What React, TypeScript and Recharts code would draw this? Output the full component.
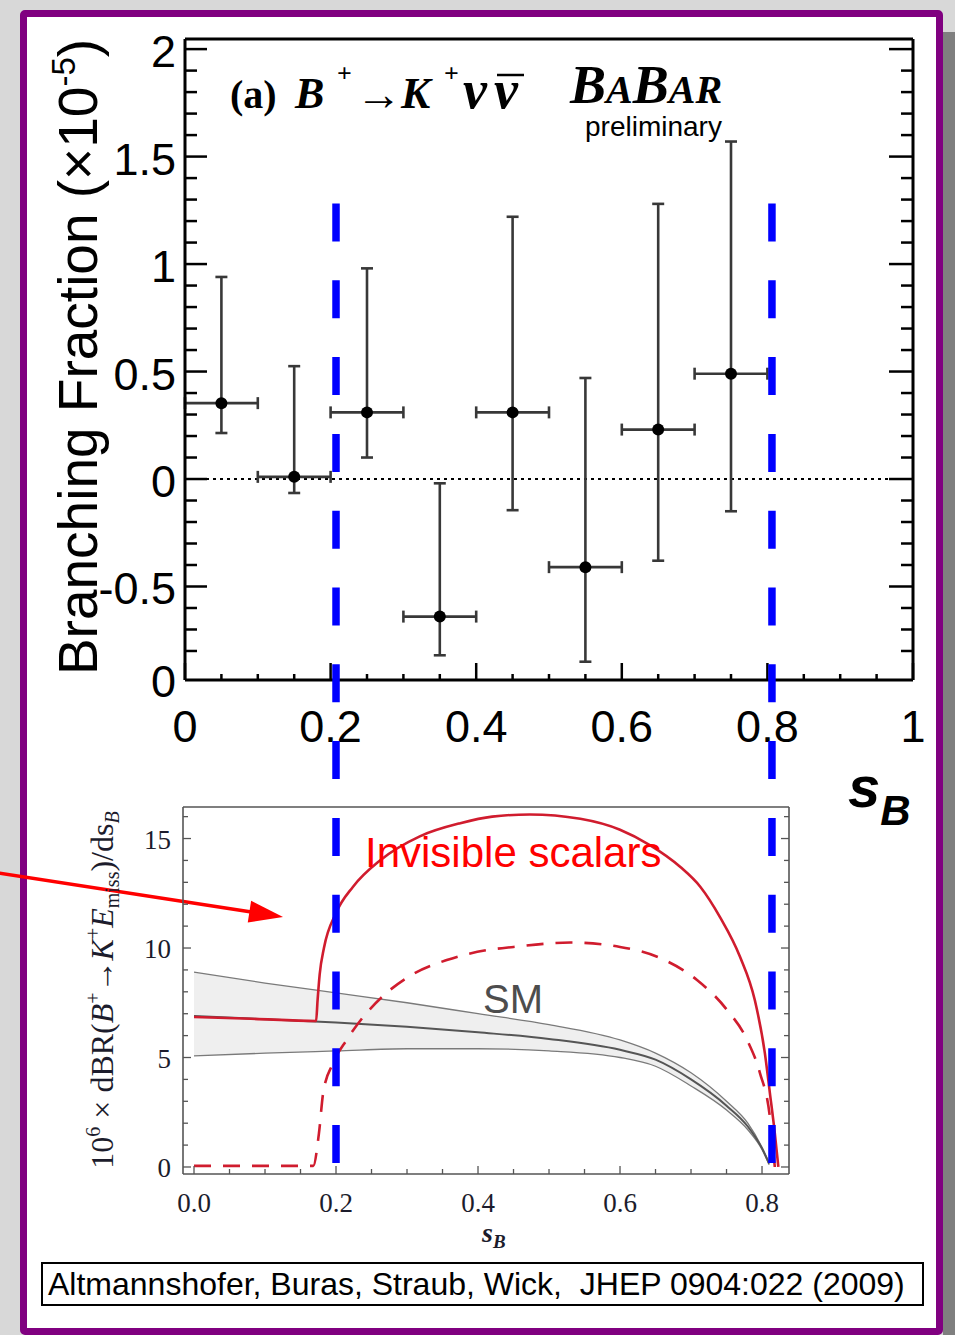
import React from 'react';
import { ComposedChart, Scatter, ErrorBar, Line, Area, XAxis, YAxis, ReferenceLine } from 'recharts';

const SANS = '"Liberation Sans", Arial, Helvetica, sans-serif';
const SERIF = '"Liberation Serif", "Times New Roman", Times, serif';

// ---- upper panel: BaBar B+ -> K+ nu nubar, branching fraction per s_B bin (x 1e-5)
const binCenters = [0.05, 0.15, 0.25, 0.35, 0.45, 0.55, 0.65, 0.75];
const bfValues = [0.353, 0.01, 0.31, -0.64, 0.31, -0.41, 0.23, 0.49];
const bfErrUp = [0.587, 0.515, 0.67, 0.62, 0.91, 0.88, 1.05, 1.08];
const bfErrDown = [0.139, 0.075, 0.21, 0.18, 0.455, 0.44, 0.61, 0.64];
const binHalfWidth = 0.05;

const topXTicks = [0, 0.05, 0.1, 0.15, 0.2, 0.25, 0.3, 0.35, 0.4, 0.45, 0.5, 0.55, 0.6, 0.65, 0.7, 0.75, 0.8, 0.85, 0.9, 0.95, 1];
const topXMajor = [0, 0.2, 0.4, 0.6, 0.8, 1];
const topYTicks = [-0.8, -0.7, -0.6, -0.5, -0.4, -0.3, -0.2, -0.1, 0, 0.1, 0.2, 0.3, 0.4, 0.5, 0.6, 0.7, 0.8, 0.9, 1, 1.1, 1.2, 1.3, 1.4, 1.5, 1.6, 1.7, 1.8, 1.9, 2];
const topYMajor = [-0.5, 0, 0.5, 1, 1.5, 2];

// ---- lower panel: dBR/ds_B, SM band and invisible-scalar curves
const smS = [0, 0.1, 0.2, 0.3, 0.4, 0.5, 0.6, 0.65, 0.7, 0.75, 0.78, 0.8, 0.81];
const smUpper = [8.9, 8.4, 7.95, 7.5, 7.0, 6.5, 5.8, 5.2, 4.3, 3.0, 2.0, 0.9, 0.2];
const smCentral = [6.9, 6.75, 6.6, 6.4, 6.15, 5.85, 5.35, 4.9, 4.0, 2.8, 1.85, 0.85, 0.15];
const smLower = [5.07, 5.2, 5.3, 5.4, 5.4, 5.3, 5.0, 4.6, 3.7, 2.6, 1.7, 0.8, 0.1];

const scalarSolidS = [0, 0.08, 0.172, 0.174, 0.177, 0.183, 0.2, 0.224, 0.262, 0.318, 0.375, 0.42, 0.473, 0.544, 0.6, 0.642, 0.685, 0.713, 0.741, 0.769, 0.79, 0.804, 0.811, 0.818, 0.823];
const scalarSolid = [6.85, 6.77, 6.67, 7.6, 8.8, 10.0, 11.6, 12.8, 14.0, 15.1, 15.7, 16.0, 16.1, 15.9, 15.4, 14.7, 13.7, 12.8, 11.4, 9.6, 7.6, 5.2, 3.4, 1.55, 0];
const scalarDashS = [0, 0.168, 0.176, 0.182, 0.196, 0.215, 0.237, 0.266, 0.308, 0.356, 0.412, 0.45, 0.53, 0.6, 0.656, 0.708, 0.75, 0.779, 0.797, 0.811, 0.818];
const scalarDash = [0.05, 0.05, 1.55, 3.4, 4.75, 5.8, 6.8, 7.8, 8.8, 9.45, 9.9, 10.05, 10.25, 10.05, 9.55, 8.55, 7.2, 5.8, 4.3, 2.3, 0];

const botXTicks = [0, 0.05, 0.1, 0.15, 0.2, 0.25, 0.3, 0.35, 0.4, 0.45, 0.5, 0.55, 0.6, 0.65, 0.7, 0.75, 0.8];
const botXMajor = [0, 0.2, 0.4, 0.6, 0.8];
const botYTicks = [0, 1, 2, 3, 4, 5, 6, 7, 8, 9, 10, 11, 12, 13, 14, 15, 16];
const botYMajor = [0, 5, 10, 15];

// s_B cuts drawn across both panels, and the pointer arrow (lower-panel units)
const cutLines = [0.2, 0.814];
const cutSpan = [0.1, 44];
const arrowFrom = { s: -0.28, y: 13.45 };
const arrowTo = { s: 0.1254, y: 11.42 };

const bfPoints = binCenters.map((x, i) => ({ x, y: bfValues[i], ey: [bfErrDown[i], bfErrUp[i]], ex: binHalfWidth }));
const smData = smS.map((s, i) => ({ s, upper: smUpper[i], central: smCentral[i], lower: smLower[i], range: [smLower[i], smUpper[i]] }));
const solidData = scalarSolidS.map((s, i) => ({ s, y: scalarSolid[i] }));
const dashData = scalarDashS.map((s, i) => ({ s, y: scalarDash[i] }));

type TickCfg = {
  side: 'bottom' | 'top' | 'left' | 'right';
  majors: number[];
  majorLen: number;
  minorLen: number;
  stroke: string;
  width: number;
  label?: (v: number) => string;
  font?: { family: string; size: number; fill: string; gap: number; dy: number };
};

const isIn = (v: number, list: number[]) => list.some((m) => Math.abs(m - v) < 1e-6);

// axes are 1px wide/tall with no tick offset, so (x, y) is the frame edge; ticks point inward
const makeTick = (cfg: TickCfg) => (props: any) => {
  const { x, y, payload } = props;
  const v = payload.value;
  const major = isIn(v, cfg.majors);
  const len = major ? cfg.majorLen : cfg.minorLen;
  const dx = cfg.side === 'left' ? len : cfg.side === 'right' ? -len : 0;
  const dy = cfg.side === 'bottom' ? -len : cfg.side === 'top' ? len : 0;
  let label = null;
  if (major && cfg.label && cfg.font) {
    const f = cfg.font;
    label =
      cfg.side === 'bottom' ? (
        <text x={x} y={y + f.gap} textAnchor="middle" fontFamily={f.family} fontSize={f.size} fill={f.fill}>
          {cfg.label(v)}
        </text>
      ) : (
        <text x={x - f.gap} y={y + f.dy} textAnchor="end" fontFamily={f.family} fontSize={f.size} fill={f.fill}>
          {cfg.label(v)}
        </text>
      );
  }
  return (
    <g>
      <line x1={x} y1={y} x2={x + dx} y2={y + dy} stroke={cfg.stroke} strokeWidth={cfg.width} />
      {label}
    </g>
  );
};

const topFont = { family: SANS, size: 45, fill: '#000' };
const botFont = { family: SERIF, size: 27, fill: '#1c1c2c' };

const arrowShape = (p: any) => {
  const { x1, y1, x2, y2 } = p;
  const ang = Math.atan2(y2 - y1, x2 - x1);
  const L = 34;
  const W = 11;
  const bx = x2 - L * Math.cos(ang);
  const by = y2 - L * Math.sin(ang);
  const nx = -Math.sin(ang) * W;
  const ny = Math.cos(ang) * W;
  return (
    <g>
      <line x1={x1} y1={y1} x2={bx + 2 * Math.cos(ang)} y2={by + 2 * Math.sin(ang)} stroke="#ff0000" strokeWidth={3.5} />
      <polygon points={`${x2},${y2} ${bx + nx},${by + ny} ${bx - nx},${by - ny}`} fill="#ff0000" />
    </g>
  );
};

const axisCommon = { allowDataOverflow: true, interval: 0 as const, tickSize: 0, tickMargin: 0, tickLine: false };

const TopPanel = () => (
  <ComposedChart width={955} height={800} margin={{ top: 38, right: 41, bottom: 119, left: 184 }}>
    <XAxis
      {...axisCommon} type="number" dataKey="x" domain={[0, 1]} ticks={topXTicks} height={1}
      axisLine={{ stroke: '#000', strokeWidth: 3 }}
      tick={makeTick({ side: 'bottom', majors: topXMajor, majorLen: 17, minorLen: 6, stroke: '#000', width: 2.5,
        label: (v) => String(v), font: { ...topFont, gap: 62, dy: 0 } })}
    />
    <XAxis
      {...axisCommon} xAxisId="t" orientation="top" type="number" domain={[0, 1]} ticks={topXTicks} height={1}
      axisLine={{ stroke: '#000', strokeWidth: 3 }}
      tick={makeTick({ side: 'top', majors: topXMajor, majorLen: 17, minorLen: 6, stroke: '#000', width: 2.5 })}
    />
    <YAxis
      {...axisCommon} type="number" dataKey="y" domain={[-0.935, 2.047]} ticks={topYTicks} width={1}
      axisLine={{ stroke: '#000', strokeWidth: 3 }}
      tick={makeTick({ side: 'left', majors: topYMajor, majorLen: 22, minorLen: 12, stroke: '#000', width: 2.5,
        label: (v) => String(v), font: { ...topFont, gap: 9, dy: 18 } })}
    />
    <YAxis
      {...axisCommon} yAxisId="r" orientation="right" type="number" domain={[-0.935, 2.047]} ticks={topYTicks} width={1}
      axisLine={{ stroke: '#000', strokeWidth: 3 }}
      tick={makeTick({ side: 'right', majors: topYMajor, majorLen: 24, minorLen: 12, stroke: '#000', width: 2.5 })}
    />
    <ReferenceLine y={0} stroke="#000" strokeWidth={1.8} strokeDasharray="3 4" />
    <Scatter
      data={bfPoints} dataKey="y" isAnimationActive={false}
      shape={(p: any) => <circle cx={p.cx} cy={p.cy} r={6} fill="#000" />}
    >
      <ErrorBar dataKey="ey" direction="y" width={6} stroke="#383838" strokeWidth={2.6} />
      <ErrorBar dataKey="ex" direction="x" width={6} stroke="#383838" strokeWidth={2.6} />
    </Scatter>
  </ComposedChart>
);

const BottomPanel = () => (
  <ComposedChart width={955} height={1335} margin={{ top: 806, right: 165, bottom: 160, left: 182 }}>
    <XAxis
      {...axisCommon} type="number" dataKey="s" domain={[-0.0155, 0.838]} ticks={botXTicks} height={1}
      axisLine={{ stroke: '#555', strokeWidth: 1.6 }}
      tick={makeTick({ side: 'bottom', majors: botXMajor, majorLen: 8, minorLen: 5, stroke: '#555', width: 1.3,
        label: (v) => v.toFixed(1), font: { ...botFont, gap: 38, dy: 0 } })}
    />
    <XAxis
      {...axisCommon} xAxisId="t" orientation="top" type="number" domain={[-0.0155, 0.838]} ticks={botXTicks} height={1}
      axisLine={{ stroke: '#555', strokeWidth: 1.6 }}
      tick={makeTick({ side: 'top', majors: botXMajor, majorLen: 8, minorLen: 5, stroke: '#555', width: 1.3 })}
    />
    <YAxis
      {...axisCommon} type="number" domain={[-0.32, 16.44]} ticks={botYTicks} width={1}
      axisLine={{ stroke: '#555', strokeWidth: 1.6 }}
      tick={makeTick({ side: 'left', majors: botYMajor, majorLen: 8, minorLen: 5, stroke: '#555', width: 1.3,
        label: (v) => String(v), font: { ...botFont, gap: 12, dy: 10 } })}
    />
    <YAxis
      {...axisCommon} yAxisId="r" orientation="right" type="number" domain={[-0.32, 16.44]} ticks={botYTicks} width={1}
      axisLine={{ stroke: '#555', strokeWidth: 1.6 }}
      tick={makeTick({ side: 'right', majors: botYMajor, majorLen: 8, minorLen: 5, stroke: '#555', width: 1.3 })}
    />
    <Area data={smData} dataKey="range" type="monotone" fill="#efefef" fillOpacity={1} stroke="none" isAnimationActive={false} />
    <Line data={smData} dataKey="upper" type="monotone" stroke="#7a7a7a" strokeWidth={1.3} dot={false} isAnimationActive={false} />
    <Line data={smData} dataKey="lower" type="monotone" stroke="#7a7a7a" strokeWidth={1.3} dot={false} isAnimationActive={false} />
    <Line data={smData} dataKey="central" type="monotone" stroke="#555" strokeWidth={2} dot={false} isAnimationActive={false} />
    <Line data={dashData} dataKey="y" type="monotone" stroke="#d01c2e" strokeWidth={2.6} strokeDasharray="17 12" dot={false} isAnimationActive={false} />
    <Line data={solidData} dataKey="y" type="monotone" stroke="#d01c2e" strokeWidth={2.6} dot={false} isAnimationActive={false} />
    {cutLines.map((c) => (
      <ReferenceLine
        key={c}
        segment={[{ x: c, y: cutSpan[1] }, { x: c, y: cutSpan[0] }]}
        ifOverflow="visible" stroke="#0000ff" strokeWidth={7.5} strokeDasharray="38 38.8"
      />
    ))}
    <ReferenceLine
      segment={[{ x: arrowFrom.s, y: arrowFrom.y }, { x: arrowTo.s, y: arrowTo.y }]}
      ifOverflow="visible" stroke="#ff0000" shape={arrowShape}
    />
  </ComposedChart>
);

const Overlay = () => (
  <svg width={955} height={1335} style={{ position: 'absolute', left: 0, top: 0, pointerEvents: 'none' }}>
    {/* upper panel text */}
    <text transform="translate(97,357) rotate(-90)" textAnchor="middle" fontFamily={SANS} fontSize={55} fill="#000">
      Branching Fraction (×10<tspan dy={-22} fontSize={33}>-5</tspan><tspan dy={22}>)</tspan>
    </text>
    <text x={176} y={697} textAnchor="end" fontFamily={SANS} fontSize={45} fill="#000">0</text>
    <text y={108} fontFamily={SERIF} fontWeight="bold" fontSize={40} fill="#000">
      <tspan x={230}>(a)</tspan>
      <tspan x={295} fontSize={44} fontStyle="italic">B</tspan>
      <tspan x={337} y={82} fontSize={26}>+</tspan>
      <tspan x={356} y={110} fontSize={46}>→</tspan>
      <tspan x={401} y={108} fontSize={44} fontStyle="italic">K</tspan>
      <tspan x={444} y={82} fontSize={26}>+</tspan>
      <tspan x={463} y={108} fontSize={54} fontStyle="italic">ν</tspan>
      <tspan x={494} fontSize={54} fontStyle="italic">ν</tspan>
    </text>
    <line x1={497} x2={524} y1={75} y2={75} stroke="#000" strokeWidth={2.5} />
    <text x={570} y={103} fontFamily={SERIF} fontWeight="bold" fontStyle="italic" fill="#000">
      <tspan fontSize={54}>B</tspan>
      <tspan fontSize={40}>A</tspan>
      <tspan fontSize={54}>B</tspan>
      <tspan fontSize={40}>AR</tspan>
    </text>
    <text x={585} y={136} fontFamily={SANS} fontSize={28} fill="#000">preliminary</text>
    <text x={848} y={807} fontFamily={SANS} fontWeight="bold" fontStyle="italic" fontSize={58} fill="#000">
      s<tspan dy={18} fontSize={42}>B</tspan>
    </text>

    {/* lower panel text */}
    <text transform="translate(113,990) rotate(-90)" textAnchor="middle" fontFamily={SERIF} fontSize={32} fill="#1c1c2c">
      10<tspan dy={-13} fontSize={20}>6</tspan>
      <tspan dy={13}> × dBR(</tspan>
      <tspan fontStyle="italic">B</tspan>
      <tspan dy={-13} fontSize={20}>+</tspan>
      <tspan dy={13}>→</tspan>
      <tspan fontStyle="italic">K</tspan>
      <tspan dy={-13} fontSize={20}>+</tspan>
      <tspan dy={13} fontStyle="italic">E</tspan>
      <tspan dy={6} fontSize={20}>miss</tspan>
      <tspan dy={-6}>)/ds</tspan>
      <tspan dy={6} fontSize={20} fontStyle="italic">B</tspan>
    </text>
    <text x={482} y={1242} fontFamily={SERIF} fontWeight="bold" fontStyle="italic" fontSize={28} fill="#1c1c2c">
      s<tspan dy={6} fontSize={19}>B</tspan>
    </text>
    <text x={365} y={867} fontFamily={SANS} fontSize={42} fill="#ff0000">Invisible scalars</text>
    <text x={483} y={1013} fontFamily={SANS} fontSize={40} fill="#4d4d4d">SM</text>

    {/* reference box */}
    <rect x={42} y={1263} width={881} height={42} fill="#fff" stroke="#000" strokeWidth={2} />
    <text x={48} y={1295} fontFamily={SANS} fontSize={32} fill="#000" style={{ whiteSpace: 'pre' }}>
      {'Altmannshofer, Buras, Straub, Wick,  JHEP 0904:022 (2009)'}
    </text>
  </svg>
);

export default function App() {
  return (
    <div style={{ position: 'absolute', left: 0, top: 0, width: 955, height: 1335, overflow: 'hidden', background: '#d8d8d8' }}>
      <div style={{ position: 'absolute', left: 943, top: 32, width: 12, height: 1303, background: '#7f7f7f' }} />
      <div
        style={{
          position: 'absolute', left: 20, top: 10, width: 923, height: 1325, boxSizing: 'border-box',
          border: '7px solid #800080', borderRadius: 5, background: '#fff',
        }}
      />
      <div style={{ position: 'absolute', left: 0, top: 0 }}>
        <TopPanel />
      </div>
      <div style={{ position: 'absolute', left: 0, top: 0 }}>
        <BottomPanel />
      </div>
      <Overlay />
    </div>
  );
}
